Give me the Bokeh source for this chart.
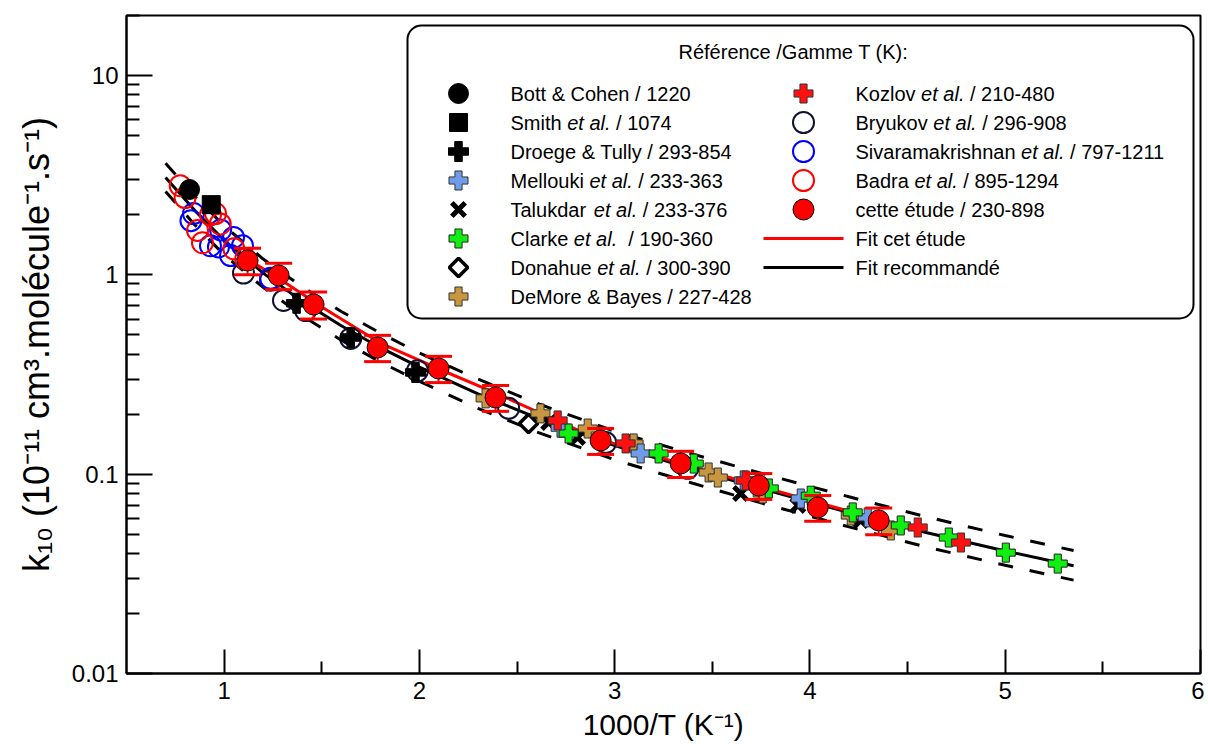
import numpy as np
from bokeh.plotting import figure
from bokeh.models import (Range1d, LinearScale, FixedTicker, CustomJSTickFormatter,
                          BoxAnnotation, ColumnDataSource)
from bokeh.core.properties import value
from bokeh.embed import file_html
from bokeh.resources import INLINE

# ---------------- data ----------------
bott_x = [0.823]
bott_y = [2.68]
smith_x = [0.934]
smith_y = [2.25]
droege_x = [1.371, 1.648, 1.98]
droege_y = [0.72, 0.485, 0.324]
mellouki_x = [2.723, 3.133, 3.661, 3.953, 4.296]
mellouki_y = [0.171, 0.127, 0.093, 0.0755, 0.0607]
talukdar_x = [2.662, 2.81, 3.645, 3.938, 4.26]
talukdar_y = [0.1817, 0.1527, 0.080, 0.0697, 0.0586]
clarke_x = [2.764, 3.225, 3.405, 3.789, 4.004, 4.219, 4.465, 4.711, 5.003, 5.269]
clarke_y = [0.160, 0.127, 0.113, 0.0848, 0.078, 0.0643, 0.0553, 0.0481, 0.0404, 0.0356]
donahue_x = [2.559]
donahue_y = [0.1796]
demore_x = [2.339, 2.62, 2.862, 3.097, 3.481, 3.528, 3.758, 4.209, 4.414]
demore_y = [0.24, 0.2017, 0.1694, 0.1426, 0.102, 0.0962, 0.080, 0.062, 0.0522]
kozlov_x = [2.708, 3.056, 3.671, 4.552, 4.773]
kozlov_y = [0.186, 0.1426, 0.093, 0.054, 0.0454]
bryukov_x = [1.099, 1.238, 1.304, 1.417, 1.648, 1.99, 2.457, 2.954, 3.374]
bryukov_y = [1.02, 0.94, 0.744, 0.662, 0.48, 0.33, 0.214, 0.144, 0.107]
siva_x = [0.83, 0.843, 0.93, 0.971, 0.982, 1.048, 1.033, 1.094, 1.238]
siva_y = [1.87, 2.03, 1.40, 1.38, 1.68, 1.54, 1.25, 1.40, 0.96]
badra_x = [0.775, 0.80, 0.864, 0.889, 0.93, 0.956, 0.98, 1.05, 1.11]
badra_y = [2.80, 2.44, 1.67, 1.45, 2.00, 2.03, 1.80, 1.35, 1.20]
etude_x = [1.120, 1.279, 1.458, 1.786, 2.098, 2.390, 2.928, 3.338, 3.738, 4.040, 4.352]
etude_y = [1.18, 0.993, 0.71, 0.432, 0.339, 0.2426, 0.1476, 0.1132, 0.0877, 0.0681, 0.0586]
etude_err = [0.18, 0.15, 0.11, 0.065, 0.051, 0.036, 0.022, 0.017, 0.013, 0.010, 0.009]

fit_x = [0.70, 0.85, 1.0, 1.2, 1.4, 1.6, 1.8, 2.0, 2.3, 2.6, 3.0, 3.4, 3.8, 4.2, 4.6, 5.0, 5.35]
fit_rec = [3.08, 2.10, 1.49, 1.02, 0.736, 0.555, 0.431, 0.344, 0.253, 0.192, 0.139, 0.106, 0.082,
           0.0642, 0.0508, 0.0412, 0.0347]
fit_up = [3.63, 2.48, 1.76, 1.20, 0.87, 0.655, 0.51, 0.405, 0.30, 0.227, 0.164, 0.126, 0.098,
          0.077, 0.061, 0.0492, 0.0414]
fit_lo = [2.62, 1.78, 1.26, 0.865, 0.624, 0.47, 0.365, 0.292, 0.214, 0.163, 0.118, 0.090, 0.0695,
          0.0544, 0.043, 0.0349, 0.0294]
red_fit_x = [1.11, 1.3, 1.5, 1.8, 2.1, 2.4, 2.9, 3.3, 3.7, 4.0, 4.35]
red_fit_y = [1.22, 0.93, 0.69, 0.455, 0.337, 0.253, 0.152, 0.116, 0.0895, 0.0738, 0.0595]

x_ticks = [1, 2, 3, 4, 5, 6]
y_ticks = [0.01, 0.1, 1, 10]

legend_title = "Référence /Gamme T (K):"
legend_left = ["Bott & Cohen / 1220", "Smith et al. / 1074", "Droege & Tully / 293-854",
               "Mellouki et al. / 233-363", "Talukdar et al. / 233-376", "Clarke et al.  / 190-360",
               "Donahue et al. / 300-390", "DeMore & Bayes / 227-428"]
legend_right = ["Kozlov et al. / 210-480", "Bryukov et al. / 296-908",
                "Sivaramakrishnan et al. / 797-1211", "Badra et al. / 895-1294",
                "cette étude / 230-898", "Fit cet étude", "Fit recommandé"]

# ---------------- styles ----------------
FONT = "Liberation Sans"
S = {
    "bott": dict(marker="circle", size=20, fill_color="black", line_color="black", line_width=1),
    "smith": dict(marker="square", size=18, fill_color="black", line_color="black", line_width=1),
    "droege": dict(marker="plus", size=20, fill_color="black", line_color="black", line_width=1),
    "mellouki": dict(marker="plus", size=19, fill_color="#6f9be8", line_color="#333333", line_width=1),
    "talukdar": dict(marker="x", size=19, line_color="black", line_width=5),
    "clarke": dict(marker="plus", size=19, fill_color="#11ee11", line_color="#222222", line_width=1),
    "donahue": dict(marker="square", size=13, angle=0.785398, fill_color="white",
                    line_color="black", line_width=3.5),
    "demore": dict(marker="plus", size=19, fill_color="#c8963e", line_color="#333333", line_width=1),
    "kozlov": dict(marker="plus", size=19, fill_color="#ff1111", line_color="#333333", line_width=1),
    "bryukov": dict(marker="circle", size=21, fill_color=None, line_color="#111133", line_width=2),
    "siva": dict(marker="circle", size=21, fill_color=None, line_color="#0000ff", line_width=2),
    "badra": dict(marker="circle", size=21, fill_color=None, line_color="#ff0000", line_width=2),
    "etude": dict(marker="circle", size=21, fill_color="#ff0000", line_color="black", line_width=1),
}

W, H = 1204, 752
ML, MR, MT, MB = 126, 4, 15, 79
FW = W - ML - MR
FH = H - MT - MB

p = figure(width=W, height=H, x_range=Range1d(0.5, 6), y_range=Range1d(0.01, 20),
           y_axis_type="log", output_backend="svg", toolbar_location=None,
           min_border_left=ML, min_border_right=MR, min_border_top=MT, min_border_bottom=MB)
p.xgrid.visible = False
p.ygrid.visible = False
p.outline_line_color = "black"
p.outline_line_width = 2
p.background_fill_color = "white"
p.border_fill_color = "white"

# axes
p.xaxis.ticker = FixedTicker(ticks=x_ticks, minor_ticks=[t + 0.5 for t in x_ticks[:-1]])
minor_y = [k * 10.0 ** e for e in (-2, -1, 0) for k in range(2, 10)] + [20]
p.yaxis.ticker = FixedTicker(ticks=y_ticks, minor_ticks=minor_y)
p.yaxis.formatter = CustomJSTickFormatter(code="return String(tick);")
for ax in (p.xaxis[0], p.yaxis[0]):
    ax.axis_line_width = 2
    ax.major_tick_out = 0
    ax.minor_tick_out = 0
    ax.major_tick_line_width = 2
    ax.minor_tick_line_width = 2
    ax.major_label_text_font = FONT
    ax.major_label_text_color = "black"
    ax.axis_label_text_font = FONT
    ax.axis_label_text_font_style = "normal"
    ax.axis_label_text_color = "black"
p.xaxis.major_tick_in = 24
p.xaxis.minor_tick_in = 12
p.yaxis.major_tick_in = 26
p.yaxis.minor_tick_in = 13
p.xaxis.major_label_text_font_size = "24px"
p.yaxis.major_label_text_font_size = "24px"
p.xaxis.major_label_standoff = 8
p.yaxis.major_label_standoff = 8
p.xaxis.axis_label = "1000/T (K\u207b\u00b9)"
p.xaxis.axis_label_text_font_size = "30px"
p.xaxis.axis_label_standoff = 6
p.yaxis.axis_label = "k\u2081\u2080 (10\u207b\u00b9\u00b9 cm\u00b3.molécule\u207b\u00b9.s\u207b\u00b9)"
p.yaxis.axis_label_text_font_size = "36px"
p.yaxis.axis_label_standoff = 12

# fit lines
p.line(fit_x, fit_up, line_color="black", line_width=3, line_dash="15 17")
p.line(fit_x, fit_lo, line_color="black", line_width=3, line_dash="15 17")
p.line(fit_x, fit_rec, line_color="black", line_width=3)
p.line(red_fit_x, red_fit_y, line_color="#ff0000", line_width=3)

# literature data
p.scatter(bryukov_x, bryukov_y, **S["bryukov"])
p.scatter(siva_x, siva_y, **S["siva"])
p.scatter(badra_x, badra_y, **S["badra"])
p.scatter(bott_x, bott_y, **S["bott"])
p.scatter(smith_x, smith_y, **S["smith"])
p.scatter(droege_x, droege_y, **S["droege"])
p.scatter(donahue_x, donahue_y, **S["donahue"])
p.scatter(talukdar_x, talukdar_y, **S["talukdar"])
p.scatter(demore_x, demore_y, **S["demore"])
p.scatter(mellouki_x, mellouki_y, **S["mellouki"])
p.scatter(clarke_x, clarke_y, **S["clarke"])
p.scatter(kozlov_x, kozlov_y, **S["kozlov"])

# this study with error bars
ex = np.array(etude_x)
ey = np.array(etude_y)
ee = np.array(etude_err)
p.segment(x0=ex, y0=ey - ee, x1=ex, y1=ey + ee, line_color="#ff0000", line_width=2)
p.scatter(ex, ey + ee, marker="dash", size=27, line_color="#ff0000", line_width=3)
p.scatter(ex, ey - ee, marker="dash", size=27, line_color="#ff0000", line_width=3)
p.scatter(etude_x, etude_y, **S["etude"])

# ---------------- legend (pixel coordinates inside the frame) ----------------
p.extra_x_ranges = {"lx": Range1d(0, FW)}
p.extra_y_ranges = {"ly": Range1d(FH, 0)}
if "extra_x_scales" in p.properties():
    p.extra_x_scales = {"lx": LinearScale()}
    p.extra_y_scales = {"ly": LinearScale()}

box_kw = dict(left=281, right=1067, top=10, bottom=303, x_range_name="lx", y_range_name="ly",
              fill_color="white", fill_alpha=1.0, line_color="black", line_alpha=1.0,
              line_width=2, level="underlay")
if "border_radius" in BoxAnnotation.properties():
    box_kw["border_radius"] = 14
p.add_layout(BoxAnnotation(**box_kw))

LFS = 20
AW = {' ': 278, 'S': 667, 'm': 833, 'i': 222, 't': 278, 'h': 556, 'M': 833, 'e': 556, 'l': 222,
      'o': 556, 'u': 556, 'k': 500, 'T': 611, 'a': 556, 'd': 556, 'r': 333, 'C': 722, 'D': 722,
      'n': 556, 'K': 667, 'z': 500, 'v': 500, 'B': 667, 'y': 500, 's': 500, 'c': 500, '.': 278}


def tw(s):
    return sum(AW.get(c, 556) for c in s) * LFS / 1000.0


reg = dict(x=[], y=[], text=[])
ita = dict(x=[], y=[], text=[])


def add_label(label, x0, y0):
    if "et al." in label:
        pre, post = label.split("et al.", 1)
        reg["x"].append(x0); reg["y"].append(y0); reg["text"].append(pre.strip())
        xi = x0 + tw(pre)
        ita["x"].append(xi); ita["y"].append(y0); ita["text"].append("et al.")
        lead = len(post) - len(post.lstrip())
        xs = xi + tw("et al.") + tw(" " * lead)
        reg["x"].append(xs); reg["y"].append(y0); reg["text"].append(post.strip())
    else:
        reg["x"].append(x0); reg["y"].append(y0); reg["text"].append(label)


row_y = [78 + 29 * i for i in range(8)]
left_keys = ["bott", "smith", "droege", "mellouki", "talukdar", "clarke", "donahue", "demore"]
right_keys = ["kozlov", "bryukov", "siva", "badra", "etude"]
for i, (k, lab) in enumerate(zip(left_keys, legend_left)):
    p.scatter([332], [row_y[i]], x_range_name="lx", y_range_name="ly", **S[k])
    add_label(lab, 384, row_y[i])
for i, lab in enumerate(legend_right):
    if i < len(right_keys):
        p.scatter([677], [row_y[i]], x_range_name="lx", y_range_name="ly", **S[right_keys[i]])
    add_label(lab, 729, row_y[i])
p.line([637, 717], [row_y[5], row_y[5]], x_range_name="lx", y_range_name="ly",
       line_color="#ff0000", line_width=3)
p.line([637, 717], [row_y[6], row_y[6]], x_range_name="lx", y_range_name="ly",
       line_color="black", line_width=3)

p.text(x="x", y="y", text="text", source=ColumnDataSource(reg), x_range_name="lx", y_range_name="ly",
       text_font=value(FONT), text_font_size=f"{LFS}px", text_baseline="middle", text_align="left",
       text_color="black")
p.text(x="x", y="y", text="text", source=ColumnDataSource(ita), x_range_name="lx", y_range_name="ly",
       text_font=value(FONT), text_font_size=f"{LFS}px", text_baseline="middle", text_align="left",
       text_font_style="italic", text_color="black")
p.text(x=[667], y=[36], text=[legend_title], x_range_name="lx", y_range_name="ly",
       text_font=value(FONT), text_font_size=f"{LFS}px", text_baseline="middle", text_align="center",
       text_color="black")

open("out.html", "w").write(file_html(p, INLINE))
